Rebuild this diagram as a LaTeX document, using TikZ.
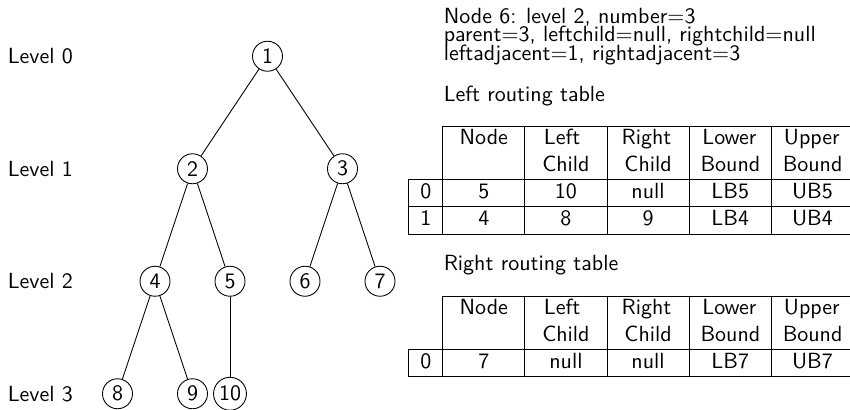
\documentclass[tikz,border=0pt]{standalone}
\usepackage{array}
\renewcommand{\familydefault}{\sfdefault}

% header row shared by both routing tables
\newcommand{\routehead}{%
  \multicolumn{1}{c|}{} & Node & Left\newline Child & Right\newline Child
  & Lower\newline Bound & Upper\newline Bound\\}
\newcolumntype{C}{>{\centering\arraybackslash}p{27pt}}
\setlength{\tabcolsep}{5pt}

\begin{document}
\begin{tikzpicture}[vertex/.style={circle,draw,inner sep=1pt,minimum size=4.8mm},
  lvl/.style={anchor=west}, plain/.style={anchor=north west,inner sep=0pt}]
\useasboundingbox (0,0) rectangle (13.6,-6.544);
% levels
\node[lvl] (l0) at (0,-0.9) {Level 0};
\node[lvl] (l1) at (0,-2.7) {Level 1};
\node[lvl] (l2) at (0,-4.5) {Level 2};
\node[lvl] (l3) at (0,-6.3) {Level 3};
% tree
\node[vertex] (n1) at (4.28,-0.9) {1};
\node[vertex] (n2) at (3.08,-2.7) {2};
\node[vertex] (n3) at (5.48,-2.7) {3};
\node[vertex] (n4) at (2.48,-4.5) {4};
\node[vertex] (n5) at (3.68,-4.5) {5};
\node[vertex] (n6) at (4.88,-4.5) {6};
\node[vertex] (n7) at (6.08,-4.5) {7};
\node[vertex] (n8) at (1.88,-6.3) {8};
\node[vertex] (n9) at (3.08,-6.3) {9};
\node[vertex] (n10) at (3.68,-6.3) {10};
\draw (n1)--(n2);
\draw (n1)--(n3);
\draw (n2)--(n4);
\draw (n2)--(n5);
\draw (n3)--(n6);
\draw (n3)--(n7);
\draw (n4)--(n8);
\draw (n4)--(n9);
\draw (n5)--(n10);
% node 6 and its routing tables
\node[plain,align=left] (info) at (7.093,-0.12) {Node 6: level 2, number=3\\[-3.6pt]
  parent=3, leftchild=null, rightchild=null\\[-3.6pt]
  leftadjacent=1, rightadjacent=3};
\node[anchor=base west,inner sep=0pt] (ltitle) at (7.093,-1.627) {Left routing table};
\node[plain] (ltab) at (6.528,-2.016) {%
  \begin{tabular}{|c|*{5}{C|}}
  \cline{2-6}
  \routehead \hline
  0 & 5 & 10 & null & LB5 & UB5\\ \hline
  1 & 4 & 8 & 9 & LB4 & UB4\\ \hline
  \end{tabular}};
\node[anchor=base west,inner sep=0pt] (rtitle) at (7.093,-4.32) {Right routing table};
\node[plain] (rtab) at (6.528,-4.736) {%
  \begin{tabular}{|c|*{5}{C|}}
  \cline{2-6}
  \routehead \hline
  0 & 7 & null & null & LB7 & UB7\\ \hline
  \end{tabular}};
\end{tikzpicture}
\end{document}
